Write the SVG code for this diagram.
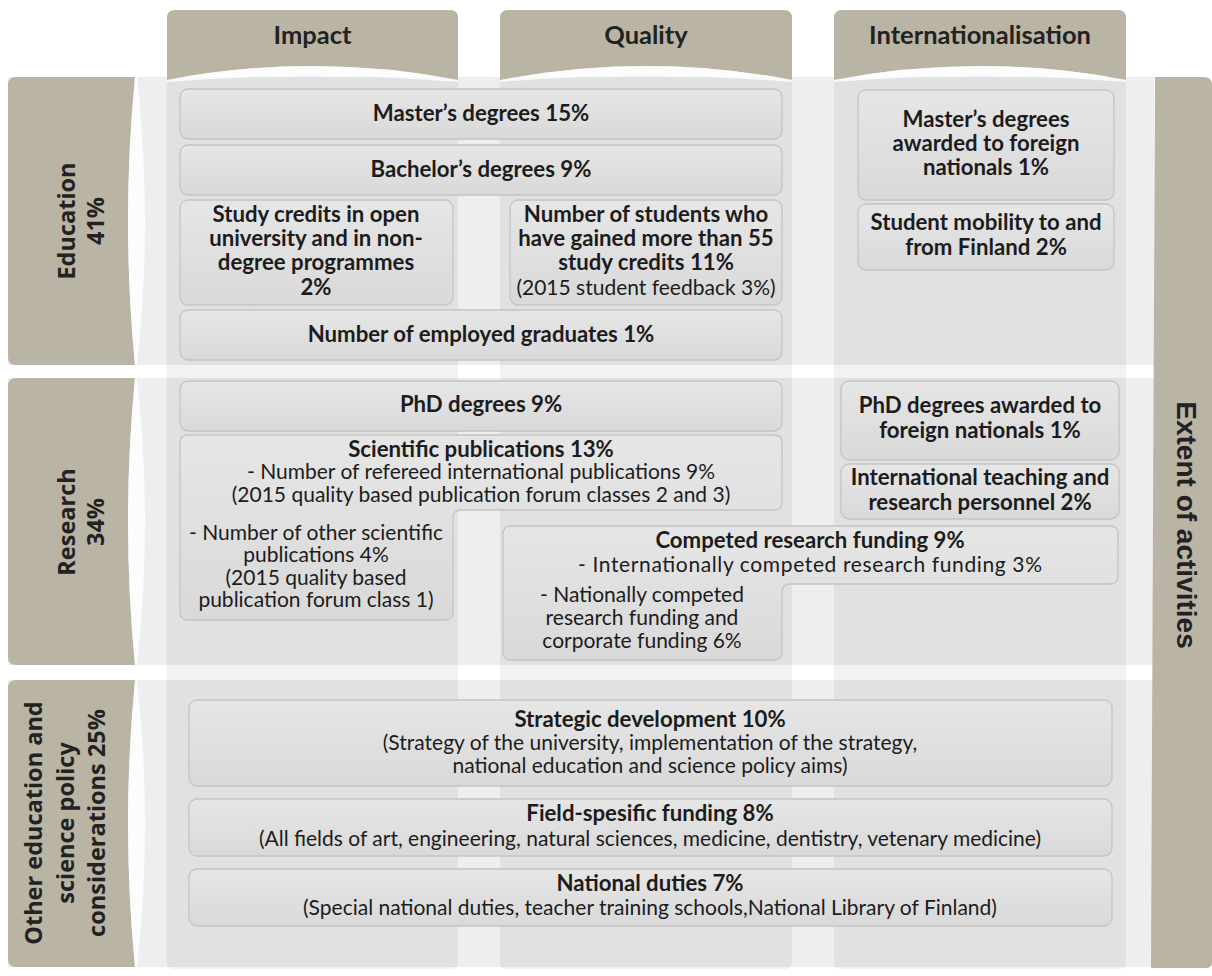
<svg xmlns="http://www.w3.org/2000/svg" width="1212" height="976" viewBox="0 0 1212 976">
<defs>
<linearGradient id="bg" x1="0" y1="0" x2="0" y2="1">
<stop offset="0" stop-color="#e6e6e6"/>
<stop offset="1" stop-color="#d9d9d9"/>
</linearGradient>
<style>
.tab{fill:#bab4a4}
.lens{fill:#ffffff;opacity:0.8}
.row{fill:#000;opacity:0.065}
.col{fill:#000;opacity:0.05}
.box{fill:url(#bg);stroke:#c4c4c4;stroke-width:1.3}
.h{font-family:Lato,"Liberation Sans",sans-serif;font-weight:700;font-size:25.5px;fill:#222;text-anchor:middle}
.b{font-family:Lato,"Liberation Sans",sans-serif;font-weight:700;font-size:22.2px;fill:#1c1c1c;text-anchor:middle}
.r{font-family:Lato,"Liberation Sans",sans-serif;font-weight:400;font-size:21px;fill:#1c1c1c;text-anchor:middle}
.lab{font-family:"Open Sans","DejaVu Sans",sans-serif;font-weight:700;font-size:23.5px;fill:#222;text-anchor:middle}
.ext{font-family:"Liberation Sans",Arial,sans-serif;font-weight:700;font-size:28px;fill:#222;text-anchor:middle}
</style>
</defs>
<rect width="1212" height="976" fill="#ffffff"/>
<g id="background">
<rect class="row" x="8" y="77" width="1146" height="288"/>
<rect class="row" x="8" y="378" width="1146" height="287"/>
<rect class="row" x="8" y="680" width="1146" height="287"/>
<rect class="col" x="167" y="60" width="291" height="909" rx="6"/>
<rect class="col" x="500" y="60" width="292" height="909" rx="6"/>
<rect class="col" x="834" y="60" width="292" height="909" rx="6"/>
</g>
<g id="header-impact">
<path class="tab" d="M167,80 L167,18 Q167,10 175,10 L450,10 Q458,10 458,18 L458,80 Q312.5,52 167,80 Z"/>
<path class="lens" d="M167,80 Q312.5,52 458,80 L458,82 Q312.5,70 167,82 Z"/>
<text class="h" x="312.5" y="44">Impact</text>
</g>
<g id="header-quality">
<path class="tab" d="M500,80 L500,18 Q500,10 508,10 L784,10 Q792,10 792,18 L792,80 Q646,52 500,80 Z"/>
<path class="lens" d="M500,80 Q646,52 792,80 L792,82 Q646,70 500,82 Z"/>
<text class="h" x="646" y="44">Quality</text>
</g>
<g id="header-internationalisation">
<path class="tab" d="M834,80 L834,18 Q834,10 842,10 L1118,10 Q1126,10 1126,18 L1126,80 Q980,52 834,80 Z"/>
<path class="lens" d="M834,80 Q980,52 1126,80 L1126,82 Q980,70 834,82 Z"/>
<text class="h" x="980" y="44">Internationalisation</text>
</g>
<g id="row-education">
<path class="tab" d="M135,77 L16,77 Q8,77 8,85 L8,357 Q8,365 16,365 L135,365 Q121,221 135,77 Z"/>
<path class="lens" d="M135,77 Q121,221 135,365 L137,365 Q153,221 137,77 Z"/>
<text class="lab" transform="translate(75,221) rotate(-90)">Education</text>
<text class="lab" transform="translate(104,221) rotate(-90)">41%</text>
</g>
<g id="row-research">
<path class="tab" d="M135,378 L16,378 Q8,378 8,386 L8,657 Q8,665 16,665 L135,665 Q121,521.5 135,378 Z"/>
<path class="lens" d="M135,378 Q121,521.5 135,665 L137,665 Q153,521.5 137,378 Z"/>
<text class="lab" transform="translate(75,522) rotate(-90)">Research</text>
<text class="lab" transform="translate(104,522) rotate(-90)">34%</text>
</g>
<g id="row-other">
<path class="tab" d="M135,680 L16,680 Q8,680 8,688 L8,959 Q8,967 16,967 L135,967 Q121,823.5 135,680 Z"/>
<path class="lens" d="M135,680 Q121,823.5 135,967 L137,967 Q153,823.5 137,680 Z"/>
<text class="lab" transform="translate(42,823) rotate(-90)">Other education and</text>
<text class="lab" transform="translate(73.5,823) rotate(-90)">science policy</text>
<text class="lab" transform="translate(105,823) rotate(-90)">considerations 25%</text>
</g>
<g id="extent">
<path class="tab" d="M1155,77 L1204,77 Q1212,77 1212,85 L1212,962 Q1212,968 1206,968 L1151,968 Z"/>
<text class="ext" transform="translate(1177,525) rotate(90)">Extent of activities</text>
</g>
<g id="masters">
<rect class="box" x="180" y="89" width="602" height="50" rx="8"/>
<text class="b" x="481" y="121">Master’s degrees 15%</text>
</g>
<g id="bachelors">
<rect class="box" x="180" y="145" width="602" height="50" rx="8"/>
<text class="b" x="481" y="177">Bachelor’s degrees 9%</text>
</g>
<g id="study-credits">
<rect class="box" x="180" y="200" width="273" height="105" rx="8"/>
<text class="b" x="316" y="222">Study credits in open</text>
<text class="b" x="316" y="246">university and in non-</text>
<text class="b" x="316" y="270">degree programmes</text>
<text class="b" x="316" y="295">2%</text>
</g>
<g id="students-55">
<rect class="box" x="510" y="200" width="272" height="105" rx="8"/>
<text class="b" x="646" y="222">Number of students who</text>
<text class="b" x="646" y="246">have gained more than 55</text>
<text class="b" x="646" y="270">study credits 11%</text>
<text class="r" x="646" y="295">(2015 student feedback 3%)</text>
</g>
<g id="employed">
<rect class="box" x="180" y="310" width="602" height="50" rx="8"/>
<text class="b" x="481" y="342">Number of employed graduates 1%</text>
</g>
<g id="masters-foreign">
<rect class="box" x="858" y="90" width="256" height="110" rx="8"/>
<text class="b" x="986" y="127">Master’s degrees</text>
<text class="b" x="986" y="151">awarded to foreign</text>
<text class="b" x="986" y="175">nationals 1%</text>
</g>
<g id="mobility">
<rect class="box" x="858" y="204" width="256" height="66" rx="8"/>
<text class="b" x="986" y="230">Student mobility to and</text>
<text class="b" x="986" y="255">from Finland 2%</text>
</g>
<g id="phd">
<rect class="box" x="180" y="381" width="602" height="50" rx="8"/>
<text class="b" x="481" y="412">PhD degrees 9%</text>
</g>
<g id="publications">
<path class="box" d="M188,435 H774 Q782,435 782,443 V502 Q782,510 774,510 H461 Q453,510 453,518 V612 Q453,620 445,620 H188 Q180,620 180,612 V443 Q180,435 188,435 Z"/>
<text class="b" x="481" y="457">Scientific publications 13%</text>
<text class="r" x="481" y="479">- Number of refereed international publications 9%</text>
<text class="r" x="481" y="502">(2015 quality based publication forum classes 2 and 3)</text>
<text class="r" x="316" y="540">- Number of other scientific</text>
<text class="r" x="316" y="562">publications 4%</text>
<text class="r" x="316" y="585">(2015 quality based</text>
<text class="r" x="316" y="607">publication forum class 1)</text>
</g>
<g id="phd-foreign">
<rect class="box" x="841" y="381" width="278" height="79" rx="8"/>
<text class="b" x="980" y="413">PhD degrees awarded to</text>
<text class="b" x="980" y="438">foreign nationals 1%</text>
</g>
<g id="intl-personnel">
<rect class="box" x="841" y="464" width="278" height="55" rx="8"/>
<text class="b" x="980" y="485">International teaching and</text>
<text class="b" x="980" y="510">research personnel 2%</text>
</g>
<g id="competed-funding">
<path class="box" d="M511,526 H1110 Q1118,526 1118,534 V576 Q1118,584 1110,584 H790 Q782,584 782,592 V652 Q782,660 774,660 H511 Q503,660 503,652 V534 Q503,526 511,526 Z"/>
<text class="b" x="810" y="548">Competed research funding 9%</text>
<text class="r" x="810" y="572" textLength="464">- Internationally competed research funding 3%</text>
<text class="r" x="642" y="602">- Nationally competed</text>
<text class="r" x="642" y="625">research funding and</text>
<text class="r" x="642" y="648">corporate funding 6%</text>
</g>
<g id="strategic">
<rect class="box" x="189" y="700" width="923" height="86" rx="8"/>
<text class="b" x="650" y="727">Strategic development 10%</text>
<text class="r" x="650" y="750">(Strategy of the university, implementation of the strategy,</text>
<text class="r" x="650" y="773">national education and science policy aims)</text>
</g>
<g id="field">
<rect class="box" x="189" y="799" width="923" height="57" rx="8"/>
<text class="b" x="650" y="821">Field-spesific funding 8%</text>
<text class="r" x="650" y="846">(All fields of art, engineering, natural sciences, medicine, dentistry, vetenary medicine)</text>
</g>
<g id="national">
<rect class="box" x="189" y="869" width="923" height="57" rx="8"/>
<text class="b" x="650" y="891">National duties 7%</text>
<text class="r" x="650" y="915">(Special national duties, teacher training schools,National Library of Finland)</text>
</g>
<g id="connectors"></g>
</svg>
